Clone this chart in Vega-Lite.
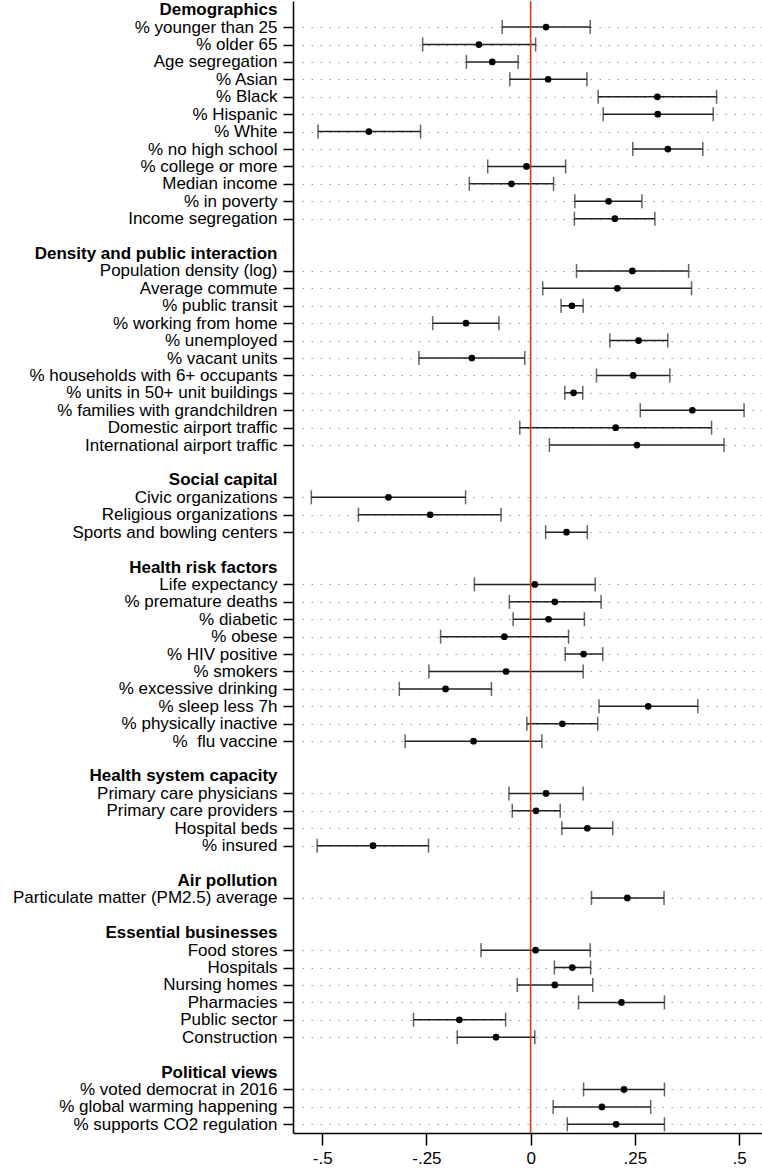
{
  "$schema": "https://vega.github.io/schema/vega-lite/v6.json",
  "width": 469,
  "height": 1132,
  "padding": {"left": 12, "top": 0, "right": 0, "bottom": 0},
  "background": "white",
  "config": {
    "view": {"stroke": null},
    "font": "Liberation Sans",
    "axis": {"labelFont": "Liberation Sans", "labelColor": "#000", "domainColor": "#000", "tickColor": "#000", "domainWidth": 1.5, "tickWidth": 1.5}
  },
  "data": {
    "values": [
      {"label": "% younger than 25", "est": 0.037, "lo": -0.068, "hi": 0.143},
      {"label": "% older 65", "est": -0.124, "lo": -0.259, "hi": 0.012},
      {"label": "Age segregation", "est": -0.092, "lo": -0.154, "hi": -0.030},
      {"label": "% Asian", "est": 0.042, "lo": -0.050, "hi": 0.135},
      {"label": "% Black", "est": 0.304, "lo": 0.162, "hi": 0.446},
      {"label": "% Hispanic", "est": 0.305, "lo": 0.174, "hi": 0.438},
      {"label": "% White", "est": -0.388, "lo": -0.510, "hi": -0.264},
      {"label": "% no high school", "est": 0.329, "lo": 0.245, "hi": 0.413},
      {"label": "% college or more", "est": -0.010, "lo": -0.103, "hi": 0.084},
      {"label": "Median income", "est": -0.046, "lo": -0.147, "hi": 0.055},
      {"label": "% in poverty", "est": 0.187, "lo": 0.106, "hi": 0.267},
      {"label": "Income segregation", "est": 0.202, "lo": 0.105, "hi": 0.298},
      {"label": "Population density (log)", "est": 0.244, "lo": 0.110, "hi": 0.379},
      {"label": "Average commute", "est": 0.208, "lo": 0.029, "hi": 0.386},
      {"label": "% public transit", "est": 0.099, "lo": 0.073, "hi": 0.126},
      {"label": "% working from home", "est": -0.155, "lo": -0.235, "hi": -0.076},
      {"label": "% unemployed", "est": 0.259, "lo": 0.190, "hi": 0.329},
      {"label": "% vacant units", "est": -0.141, "lo": -0.268, "hi": -0.014},
      {"label": "% households with 6+ occupants", "est": 0.246, "lo": 0.158, "hi": 0.334},
      {"label": "% units in 50+ unit buildings", "est": 0.103, "lo": 0.082, "hi": 0.125},
      {"label": "% families with grandchildren", "est": 0.388, "lo": 0.263, "hi": 0.512},
      {"label": "Domestic airport traffic", "est": 0.204, "lo": -0.026, "hi": 0.434},
      {"label": "International airport traffic", "est": 0.255, "lo": 0.045, "hi": 0.464},
      {"label": "Civic organizations", "est": -0.341, "lo": -0.526, "hi": -0.156},
      {"label": "Religious organizations", "est": -0.241, "lo": -0.413, "hi": -0.071},
      {"label": "Sports and bowling centers", "est": 0.086, "lo": 0.036, "hi": 0.136},
      {"label": "Life expectancy", "est": 0.010, "lo": -0.135, "hi": 0.155},
      {"label": "% premature deaths", "est": 0.058, "lo": -0.051, "hi": 0.169},
      {"label": "% diabetic", "est": 0.043, "lo": -0.042, "hi": 0.129},
      {"label": "% obese", "est": -0.063, "lo": -0.216, "hi": 0.091},
      {"label": "% HIV positive", "est": 0.127, "lo": 0.083, "hi": 0.173},
      {"label": "% smokers", "est": -0.059, "lo": -0.244, "hi": 0.126},
      {"label": "% excessive drinking", "est": -0.204, "lo": -0.315, "hi": -0.094},
      {"label": "% sleep less 7h", "est": 0.282, "lo": 0.164, "hi": 0.401},
      {"label": "% physically inactive", "est": 0.076, "lo": -0.009, "hi": 0.161},
      {"label": "% \u00a0flu vaccine", "est": -0.137, "lo": -0.301, "hi": 0.027},
      {"label": "Primary care physicians", "est": 0.037, "lo": -0.052, "hi": 0.126},
      {"label": "Primary care providers", "est": 0.013, "lo": -0.044, "hi": 0.071},
      {"label": "Hospital beds", "est": 0.136, "lo": 0.075, "hi": 0.197},
      {"label": "% insured", "est": -0.378, "lo": -0.512, "hi": -0.245},
      {"label": "Particulate matter (PM2.5) average", "est": 0.232, "lo": 0.146, "hi": 0.320},
      {"label": "Food stores", "est": 0.012, "lo": -0.119, "hi": 0.143},
      {"label": "Hospitals", "est": 0.100, "lo": 0.057, "hi": 0.144},
      {"label": "Nursing homes", "est": 0.058, "lo": -0.032, "hi": 0.149},
      {"label": "Pharmacies", "est": 0.218, "lo": 0.115, "hi": 0.321},
      {"label": "Public sector", "est": -0.171, "lo": -0.281, "hi": -0.060},
      {"label": "Construction", "est": -0.083, "lo": -0.176, "hi": 0.010},
      {"label": "% voted democrat in 2016", "est": 0.224, "lo": 0.127, "hi": 0.321},
      {"label": "% global warming happening", "est": 0.171, "lo": 0.054, "hi": 0.288},
      {"label": "% supports CO2 regulation", "est": 0.205, "lo": 0.088, "hi": 0.321}
    ]
  },
  "encoding": {
    "y": {
      "field": "label",
      "type": "nominal",
      "scale": {
        "type": "point",
        "padding": 0.5,
        "domain": [
          "Demographics", "% younger than 25", "% older 65", "Age segregation", "% Asian", "% Black", "% Hispanic", "% White", "% no high school", "% college or more", "Median income", "% in poverty", "Income segregation",
          " ",
          "Density and public interaction", "Population density (log)", "Average commute", "% public transit", "% working from home", "% unemployed", "% vacant units", "% households with 6+ occupants", "% units in 50+ unit buildings", "% families with grandchildren", "Domestic airport traffic", "International airport traffic",
          "  ",
          "Social capital", "Civic organizations", "Religious organizations", "Sports and bowling centers",
          "   ",
          "Health risk factors", "Life expectancy", "% premature deaths", "% diabetic", "% obese", "% HIV positive", "% smokers", "% excessive drinking", "% sleep less 7h", "% physically inactive", "% \u00a0flu vaccine",
          "    ",
          "Health system capacity", "Primary care physicians", "Primary care providers", "Hospital beds", "% insured",
          "     ",
          "Air pollution", "Particulate matter (PM2.5) average",
          "      ",
          "Essential businesses", "Food stores", "Hospitals", "Nursing homes", "Pharmacies", "Public sector", "Construction",
          "       ",
          "Political views", "% voted democrat in 2016", "% global warming happening", "% supports CO2 regulation"
        ]
      },
      "axis": {
        "title": null,
        "labelFontSize": 17,
        "labelPadding": 6,
        "tickSize": 10,
        "labelLimit": 400,
        "labelFontWeight": {"condition": {"test": "indexof(['Demographics','Density and public interaction','Social capital','Health risk factors','Health system capacity','Air pollution','Essential businesses','Political views'], datum.value) >= 0", "value": "bold"}, "value": "normal"},
        "tickOpacity": {"condition": {"test": "indexof(['Demographics','Density and public interaction','Social capital','Health risk factors','Health system capacity','Air pollution','Essential businesses','Political views'], datum.value) >= 0 || trim(datum.value) == ''", "value": 0}, "value": 1},
        "grid": true,
        "gridColor": "#9a9a9a",
        "gridDash": [1.5, 7.5],
        "gridWidth": 1,
        "gridOpacity": {"condition": {"test": "indexof(['Demographics','Density and public interaction','Social capital','Health risk factors','Health system capacity','Air pollution','Essential businesses','Political views'], datum.value) >= 0 || trim(datum.value) == ''", "value": 0}, "value": 1}
      }
    }
  },
  "layer": [
    {
      "mark": {"type": "rule", "color": "#222", "strokeWidth": 1.5},
      "encoding": {
        "x": {"field": "lo", "type": "quantitative", "scale": {"domain": [-0.57, 0.555], "nice": false, "zero": false},
          "axis": {"title": null, "values": [-0.5, -0.25, 0, 0.25, 0.5], "grid": false, "tickSize": 12, "labelFontSize": 17, "labelPadding": 5,
            "labelExpr": "datum.value == 0 ? '0' : replace(toString(datum.value), '0.', '.')"}},
        "x2": {"field": "hi"}
      }
    },
    {
      "mark": {"type": "tick", "color": "#222", "thickness": 1.5, "size": 14},
      "encoding": {"x": {"field": "lo", "type": "quantitative"}}
    },
    {
      "mark": {"type": "tick", "color": "#222", "thickness": 1.5, "size": 14},
      "encoding": {"x": {"field": "hi", "type": "quantitative"}}
    },
    {
      "data": {"values": [{"ref": 0}]},
      "mark": {"type": "rule", "color": "#d8391b", "strokeWidth": 1.6},
      "encoding": {"x": {"field": "ref", "type": "quantitative"}, "y": null}
    },
    {
      "mark": {"type": "circle", "color": "#000", "opacity": 1, "size": 45},
      "encoding": {"x": {"field": "est", "type": "quantitative"}}
    }
  ]
}
